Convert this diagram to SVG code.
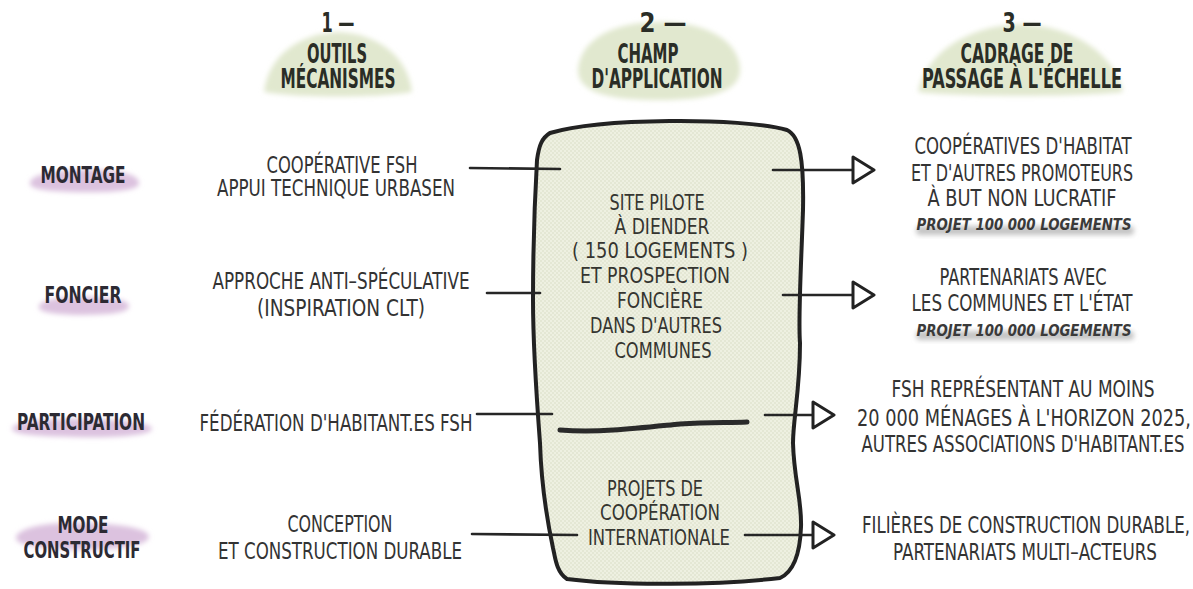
<svg xmlns="http://www.w3.org/2000/svg" width="1193" height="589" viewBox="0 0 1193 589">
  <defs>
    <style>
      text { font-family: "Liberation Sans Narrow", "DejaVu Sans Condensed", "Liberation Sans", sans-serif; text-anchor: middle; fill: #2e2e2e; }
      .hd { font-size: 26px; font-weight: bold; fill: #2a2d26; }
      .lbl { font-size: 23px; font-weight: bold; fill: #2c2a33; }
      .t { font-size: 23px; fill: #333; }
      .c { font-size: 21px; fill: #353530; }
      .it { font-size: 15px; font-weight: bold; font-style: italic; fill: #3a3a3a; }
      .green { fill: #e1e8cf; filter: url(#soft); }
      .pink { fill: #dcc2df; filter: url(#soft); }
      .bar { fill: #c4c4c4; filter: url(#soft); }
      .link { stroke: #262626; stroke-width: 2.6; fill: none; stroke-linecap: round; }
      .arrow { marker-end: url(#tri); }
    </style>
    <filter id="soft" x="-20%" y="-40%" width="140%" height="180%">
      <feGaussianBlur stdDeviation="2.5"/>
    </filter>
    <pattern id="checks" width="4" height="4" patternUnits="userSpaceOnUse">
      <rect width="4" height="4" fill="#eef0e1"/>
      <rect width="2" height="2" fill="#e4e7d4"/>
      <rect x="2" y="2" width="2" height="2" fill="#e4e7d4"/>
    </pattern>
    <marker id="tri" markerUnits="userSpaceOnUse" markerWidth="26" markerHeight="30" refX="2" refY="15" orient="auto" viewBox="0 0 26 30">
      <path d="M2,2 L23,15 L2,28 Z" fill="#fff" stroke="#222" stroke-width="3" stroke-linejoin="round"/>
    </marker>
  </defs>

  <rect width="1193" height="589" fill="#fff"/>

  <!-- column headers -->
  <g id="header-outils">
    <path class="green" d="M264,92 C268,58 296,34 338,32 C380,34 408,58 412,92 C380,98 296,98 264,92 Z"/>
    <text class="hd" x="338" y="32" textLength="33" lengthAdjust="spacingAndGlyphs">1 —</text>
    <text class="hd" x="337" y="63" textLength="60" lengthAdjust="spacingAndGlyphs">OUTILS</text>
    <text class="hd" x="338" y="88" textLength="115" lengthAdjust="spacingAndGlyphs">MÉCANISMES</text>
  </g>
  <g id="header-champ">
    <path class="green" d="M578,70 C580,40 612,22 660,22 C708,22 740,42 740,70 C740,92 708,100 660,100 C612,100 578,94 578,70 Z"/>
    <text class="hd" x="663" y="32" textLength="47" lengthAdjust="spacingAndGlyphs">2 —</text>
    <text class="hd" x="648" y="63" textLength="61" lengthAdjust="spacingAndGlyphs">CHAMP</text>
    <text class="hd" x="657" y="88" textLength="131" lengthAdjust="spacingAndGlyphs">D'APPLICATION</text>
  </g>
  <g id="header-cadrage">
    <path class="green" d="M918,92 C925,55 965,26 1020,24 C1075,26 1115,55 1123,92 C1080,97 960,97 918,92 Z"/>
    <text class="hd" x="1022" y="32" textLength="39" lengthAdjust="spacingAndGlyphs">3 —</text>
    <text class="hd" x="1017" y="63" textLength="113" lengthAdjust="spacingAndGlyphs">CADRAGE DE</text>
    <text class="hd" x="1022" y="88" textLength="200" lengthAdjust="spacingAndGlyphs">PASSAGE À L'ÉCHELLE</text>
  </g>

  <!-- row labels -->
  <g id="label-montage">
    <path class="pink" d="M30,182 C34,172 70,169 100,170 C125,171 140,176 139,184 C137,192 100,193 70,192 C45,191 28,189 30,182 Z"/>
    <text class="lbl" x="83" y="183" textLength="85" lengthAdjust="spacingAndGlyphs">MONTAGE</text>
  </g>
  <g id="label-foncier">
    <path class="pink" d="M39,306 C42,298 70,296 95,297 C118,298 130,301 129,307 C127,314 100,315 75,315 C52,314 37,312 39,306 Z"/>
    <text class="lbl" x="83" y="303" textLength="77" lengthAdjust="spacingAndGlyphs">FONCIER</text>
  </g>
  <g id="label-participation">
    <path class="pink" d="M12,428 C16,420 55,418 90,419 C125,420 152,423 152,429 C150,436 110,438 75,437 C40,436 10,435 12,428 Z"/>
    <text class="lbl" x="81" y="430" textLength="128" lengthAdjust="spacingAndGlyphs">PARTICIPATION</text>
  </g>
  <g id="label-mode">
    <path class="pink" d="M16,537 C20,526 55,522 85,523 C120,524 149,528 149,537 C147,547 110,550 80,550 C45,549 14,546 16,537 Z"/>
    <text class="lbl" x="83" y="533" textLength="51" lengthAdjust="spacingAndGlyphs">MODE</text>
    <text class="lbl" x="82" y="558" textLength="117" lengthAdjust="spacingAndGlyphs">CONSTRUCTIF</text>
  </g>

  <!-- tools and mechanisms -->
  <g id="outil-montage">
    <text class="t" x="342" y="173" textLength="151" lengthAdjust="spacingAndGlyphs">COOPÉRATIVE FSH</text>
    <text class="t" x="336" y="196" textLength="238" lengthAdjust="spacingAndGlyphs">APPUI TECHNIQUE URBASEN</text>
  </g>
  <g id="outil-foncier">
    <text class="t" x="341" y="289" textLength="257" lengthAdjust="spacingAndGlyphs">APPROCHE ANTI–SPÉCULATIVE</text>
    <text class="t" x="341" y="316" textLength="168" lengthAdjust="spacingAndGlyphs">(INSPIRATION CLT)</text>
  </g>
  <g id="outil-participation">
    <text class="t" x="336" y="431" textLength="273" lengthAdjust="spacingAndGlyphs">FÉDÉRATION D'HABITANT.ES FSH</text>
  </g>
  <g id="outil-mode">
    <text class="t" x="340" y="532" textLength="105" lengthAdjust="spacingAndGlyphs">CONCEPTION</text>
    <text class="t" x="340" y="559" textLength="244" lengthAdjust="spacingAndGlyphs">ET CONSTRUCTION DURABLE</text>
  </g>

  <!-- central field of application -->
  <g id="champ">
    <path d="M550,133 C600,118 740,117 787,130 C800,136 804,160 803,210 C801,270 798,320 800,343 C800,390 793,420 793,443 C794,480 802,500 801,527 C800,555 793,572 780,578 C720,585 620,586 567,579 C556,572 555,556 553,548 C546,515 541,475 540,443 C536,390 533,340 533,300 C533,250 535,195 537,160 C539,145 542,138 550,133 Z" fill="url(#checks)" stroke="#222" stroke-width="4" stroke-linejoin="round"/>
    <path d="M560,430 C600,433 640,428 680,424 C710,422 730,423 747,422" fill="none" stroke="#2a2a2a" stroke-width="5" stroke-linecap="round"/>
    <text class="c" x="657" y="210" textLength="95" lengthAdjust="spacingAndGlyphs">SITE PILOTE</text>
    <text class="c" x="662" y="234" textLength="95" lengthAdjust="spacingAndGlyphs">À DIENDER</text>
    <text class="c" x="660" y="258" textLength="176" lengthAdjust="spacingAndGlyphs">( 150 LOGEMENTS )</text>
    <text class="c" x="655" y="283" textLength="150" lengthAdjust="spacingAndGlyphs">ET PROSPECTION</text>
    <text class="c" x="660" y="308" textLength="86" lengthAdjust="spacingAndGlyphs">FONCIÈRE</text>
    <text class="c" x="656" y="333" textLength="132" lengthAdjust="spacingAndGlyphs">DANS D'AUTRES</text>
    <text class="c" x="663" y="358" textLength="97" lengthAdjust="spacingAndGlyphs">COMMUNES</text>
    <text class="c" x="655" y="496" textLength="96" lengthAdjust="spacingAndGlyphs">PROJETS DE</text>
    <text class="c" x="660" y="520" textLength="120" lengthAdjust="spacingAndGlyphs">COOPÉRATION</text>
    <text class="c" x="659" y="545" textLength="142" lengthAdjust="spacingAndGlyphs">INTERNATIONALE</text>
  </g>

  <!-- scaling-up framework -->
  <g id="cadrage-montage">
    <rect class="bar" x="916" y="226" width="218" height="9" rx="4"/>
    <text class="t" x="1023" y="154" textLength="217" lengthAdjust="spacingAndGlyphs">COOPÉRATIVES D'HABITAT</text>
    <text class="t" x="1022" y="181" textLength="222" lengthAdjust="spacingAndGlyphs">ET D'AUTRES PROMOTEURS</text>
    <text class="t" x="1022" y="206" textLength="189" lengthAdjust="spacingAndGlyphs">À BUT NON LUCRATIF</text>
    <text class="it" x="1024" y="230" textLength="215" lengthAdjust="spacingAndGlyphs">PROJET 100 000 LOGEMENTS</text>
  </g>
  <g id="cadrage-foncier">
    <rect class="bar" x="916" y="331" width="218" height="9" rx="4"/>
    <text class="t" x="1023" y="285" textLength="167" lengthAdjust="spacingAndGlyphs">PARTENARIATS AVEC</text>
    <text class="t" x="1022" y="311" textLength="221" lengthAdjust="spacingAndGlyphs">LES COMMUNES ET L'ÉTAT</text>
    <text class="it" x="1024" y="336" textLength="215" lengthAdjust="spacingAndGlyphs">PROJET 100 000 LOGEMENTS</text>
  </g>
  <g id="cadrage-participation">
    <text class="t" x="1023" y="397" textLength="263" lengthAdjust="spacingAndGlyphs">FSH REPRÉSENTANT AU MOINS</text>
    <text class="t" x="1024" y="426" textLength="334" lengthAdjust="spacingAndGlyphs">20 000 MÉNAGES À L'HORIZON 2025,</text>
    <text class="t" x="1023" y="452" textLength="323" lengthAdjust="spacingAndGlyphs">AUTRES ASSOCIATIONS D'HABITANT.ES</text>
  </g>
  <g id="cadrage-mode">
    <text class="t" x="1026" y="533" textLength="328" lengthAdjust="spacingAndGlyphs">FILIÈRES DE CONSTRUCTION DURABLE,</text>
    <text class="t" x="1025" y="560" textLength="264" lengthAdjust="spacingAndGlyphs">PARTENARIATS MULTI–ACTEURS</text>
  </g>

  <!-- connectors -->
  <g id="connectors">
    <path class="link" d="M470,168 L560,169"/>
    <path class="link arrow" d="M773,170 L853,170"/>
    <path class="link" d="M487,293 L540,293"/>
    <path class="link arrow" d="M783,295 L853,295"/>
    <path class="link" d="M477,414 L552,414"/>
    <path class="link arrow" d="M765,415 L813,415"/>
    <path class="link" d="M472,534 L577,535"/>
    <path class="link arrow" d="M745,535 L813,535"/>
  </g>
</svg>
